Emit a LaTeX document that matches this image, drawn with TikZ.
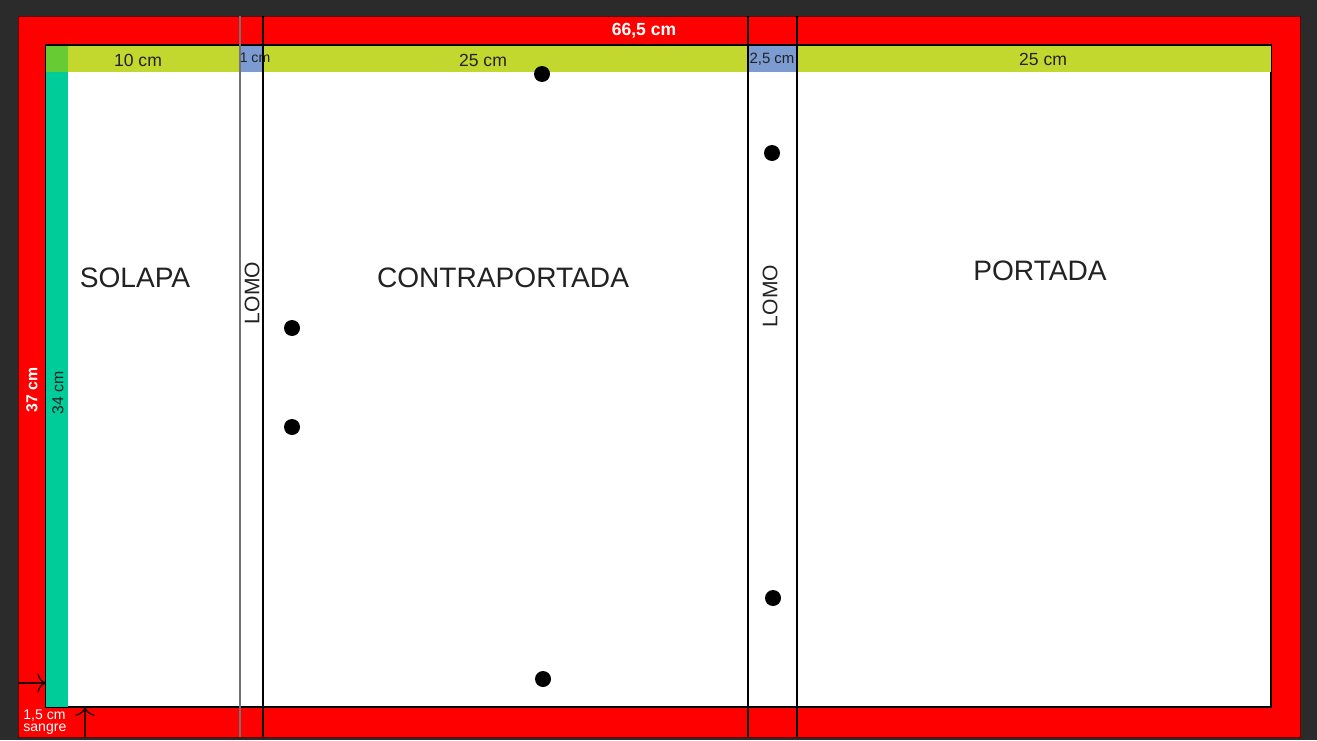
\documentclass[tikz,border=0pt]{standalone}
\usepackage{fontspec}
\setmainfont{Liberation Sans}
\usetikzlibrary{arrows.meta, positioning}

\definecolor{fondo}{HTML}{2B2B2B}
\definecolor{sangre}{HTML}{FF0000}
\definecolor{franja}{HTML}{C3D82F}
\definecolor{lateral}{HTML}{00CC99}
\definecolor{esquina}{HTML}{66CC33}
\definecolor{lomoazul}{HTML}{7B9BD1}
\definecolor{texto}{HTML}{222222}

\begin{document}
\begin{tikzpicture}[
  x=0.02cm, y=-0.02cm,
  medida/.style={font=\fontsize{10}{11}\selectfont, text=texto, inner sep=0pt},
  titulo/.style={font=\fontsize{16}{18}\selectfont, text=texto, inner sep=0pt},
  lomotxt/.style={font=\fontsize{12}{14}\selectfont, text=texto, inner sep=0pt, rotate=90},
  punto/.style={circle, fill=black, inner sep=0pt, minimum size=0.32cm},
  pliegue/.style={draw=black, line width=0.7pt},
  flecha/.style={-{To[length=5pt, width=11pt]}, draw=black!85!red, line width=0.8pt}
]
\useasboundingbox (0,0) rectangle (1317,740);

% fondo y sangre
\fill[fondo] (0,0) rectangle (1317,740);
\fill[sangre, draw=black!60!red, line width=0.4pt] (18,16) rectangle (1300,737);
\fill[white, draw=black, line width=0.7pt] (46,45) rectangle (1271,707);

% franjas de medida
\fill[franja] (46,45) rectangle (1271,72);
\fill[lateral] (46,72) rectangle (68,707);
\fill[esquina] (46,45) rectangle (68,72);
\fill[lomoazul] (240,45) rectangle (263,72);
\fill[lomoazul] (748,45) rectangle (797,72);
\draw[black, line width=0.7pt] (46,45) -- (1271,45);

% pliegues
\draw[pliegue, draw=black!55, line width=1.1pt] (240,16) -- (240,737);
\draw[pliegue] (263,16) -- (263,737);
\draw[pliegue] (748,16) -- (748,737);
\draw[pliegue] (797,16) -- (797,737);

% medidas
\node[medida, text=white, font=\bfseries\fontsize{10}{11}\selectfont] (total) at (644,31) {66,5 cm};
\node[medida] (solapaAncho) at (138,60) {10 cm};
\node[medida, font=\fontsize{8}{9}\selectfont] (lomoIzqAncho) at (255,58) {1 cm};
\node[medida] (contraAncho) at (483,60) {25 cm};
\node[medida, font=\fontsize{8.5}{9}\selectfont] (lomoDerAncho) at (772,59) {2,5 cm};
\node[medida] (portadaAncho) at (1043,59) {25 cm};
\node[medida, text=white, rotate=90, font=\bfseries\fontsize{9}{10}\selectfont] (altoTotal) at (32,390) {37 cm};
\node[medida, rotate=90, font=\fontsize{9}{10}\selectfont] (altoPagina) at (58,393) {34 cm};
\node[medida, text=white, anchor=north west, align=left, font=\fontsize{8}{7}\selectfont] (sangreTxt) at (23,709) {1,5 cm\\sangre};

% zonas
\node[titulo] (solapa) at (135,278) {SOLAPA};
\node[titulo] (contraportada) at (503,278) {CONTRAPORTADA};
\node[titulo] (portada) at (1040,271) {PORTADA};
\node[lomotxt] (lomoIzq) at (252,293) {LOMO};
\node[lomotxt] (lomoDer) at (770,296) {LOMO};

% puntos
\node[punto] (p1) at (542,74) {};
\node[punto] (p2) at (292,328) {};
\node[punto] (p3) at (292,427) {};
\node[punto] (p4) at (543,679) {};
\node[punto] (p5) at (772,153) {};
\node[punto] (p6) at (773,598) {};

% flechas de sangre
\coordinate (sangreIzq) at (18,683);
\coordinate (bordeIzq) at (46,683);
\coordinate (sangreInf) at (85,737);
\coordinate (bordeInf) at (85,707);
\draw[flecha] (sangreIzq) -- (bordeIzq);
\draw[flecha] (sangreInf) -- (bordeInf);

\end{tikzpicture}
\end{document}
